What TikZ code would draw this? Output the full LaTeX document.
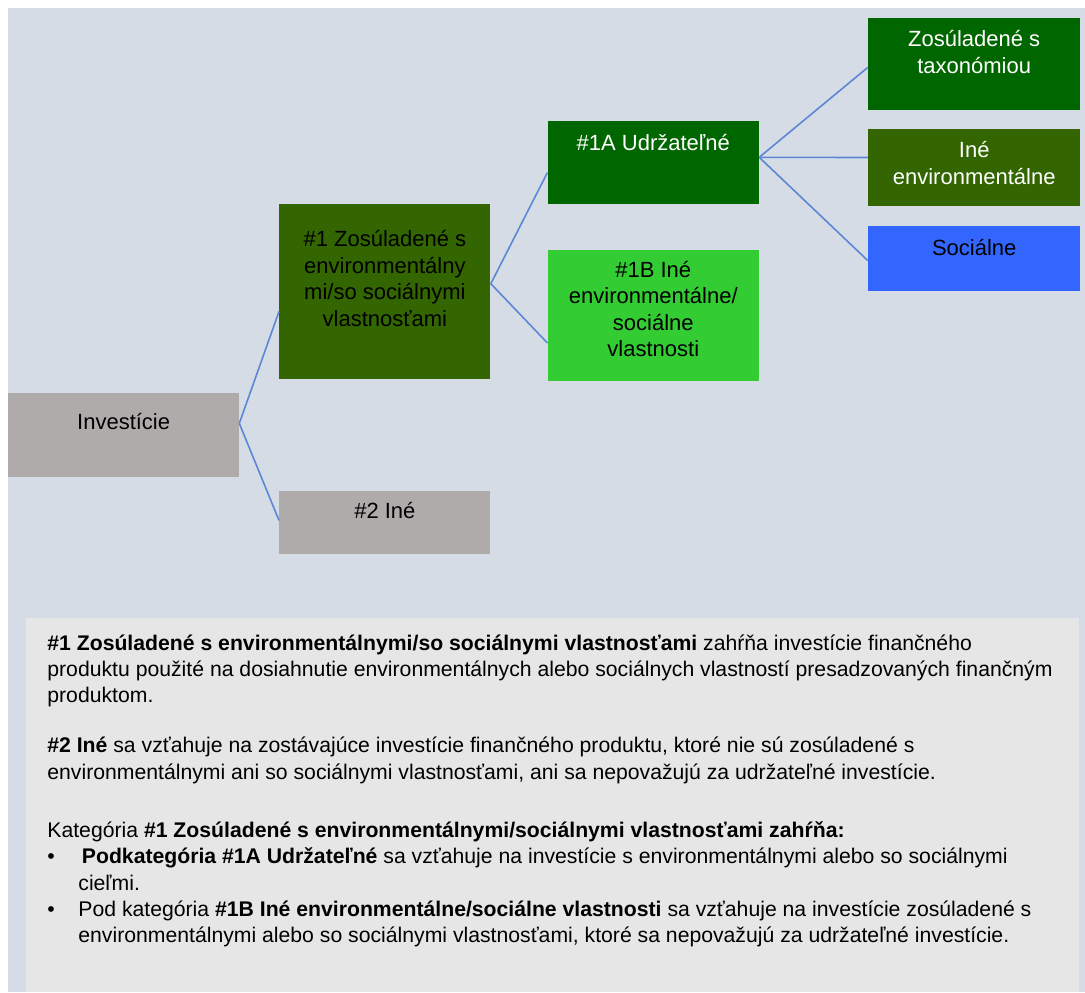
\documentclass[tikz,border=0pt]{standalone}
\usepackage{fontspec}
\setmainfont{Liberation Sans}
\usepackage{tikz}
\definecolor{bgblue}{HTML}{D6DCE5}
\definecolor{notegray}{HTML}{E7E6E6}
\definecolor{invgray}{HTML}{AFABAB}
\definecolor{olive}{HTML}{336600}
\definecolor{darkgreen}{HTML}{006600}
\definecolor{lightgreen}{HTML}{33CC33}
\definecolor{socblue}{HTML}{3366FF}
\definecolor{linkblue}{HTML}{5B87D6}
\newcommand{\nbul}{\makebox[15.5pt][l]{\textbullet}}

\begin{document}
\begin{tikzpicture}[x=0.5pt,y=-0.5pt]
\tikzstyle{cat}=[
    rectangle,
    anchor=north west,
    inner sep=0pt,
    align=center,
    font=\fontsize{11}{13.25}\selectfont]
\tikzstyle{catl}=[cat, minimum width=105.5pt]
\tikzstyle{catr}=[cat, minimum width=106pt]
\tikzstyle{link}=[draw=linkblue, line width=0.8pt]
\tikzstyle{notes}=[
    anchor=north west,
    inner sep=0pt,
    align=left,
    font=\fontsize{10.6}{13.2}\selectfont]

\useasboundingbox (0,0) rectangle (1085,992);
\fill[bgblue] (8,8) rectangle (1085,992);
\fill[notegray] (26,618) rectangle (1079,992);

% categories
\node[cat, fill=invgray, minimum width=115.25pt, minimum height=41.75pt, text depth=13.6pt] (inv) at (8,393) {Investície};
\node[catl, fill=olive, minimum height=87.5pt, text depth=13.5pt] (one) at (279,204) {\#1 Zosúladené s\\environmentálny\\mi/so sociálnymi\\vlastnosťami};
\node[catl, fill=invgray, minimum height=31.6pt, text depth=12.2pt] (two) at (279,490.6) {\#2 Iné};
\node[catl, fill=darkgreen, text=white, minimum height=41.5pt, text depth=20.4pt] (oneA) at (547.4,120.5) {\#1A Udržateľné};
\node[catl, fill=lightgreen, minimum height=65.65pt, text depth=6.6pt] (oneB) at (547.4,249.5) {\#1B Iné\\environmentálne/\\sociálne\\vlastnosti};
\node[catr, fill=darkgreen, text=white, minimum height=46.4pt, text depth=12.2pt] (tax) at (867.8,17.2) {Zosúladené s\\taxonómiou};
\node[catr, fill=olive, text=white, minimum height=38.5pt, text depth=4.8pt] (oenv) at (867.8,128.6) {Iné\\environmentálne};
\node[catr, fill=socblue, minimum height=32.5pt, text depth=11.4pt] (soc) at (867.8,225.8) {Sociálne};

% links
\draw[link] ([yshift=5.9pt]inv.east) -- ([yshift=-9.8pt]one.west);
\draw[link] ([yshift=5.9pt]inv.east) -- ([yshift=1.1pt]two.west);
\draw[link] ([yshift=4.1pt]one.east) -- ([yshift=-5.1pt]oneA.west);
\draw[link] ([yshift=4.1pt]one.east) -- ([yshift=-13.7pt]oneB.west);
\draw[link] ([yshift=2.55pt]oneA.east) -- ([yshift=-1.7pt]tax.west);
\draw[link] ([yshift=2.55pt]oneA.east) -- ([yshift=5pt]oenv.west);
\draw[link] ([yshift=2.55pt]oneA.east) -- ([yshift=-0.95pt]soc.west);

% explanation
\node[notes] (expl) at (47,634) {%
\textbf{\#1 Zosúladené s environmentálnymi/so sociálnymi vlastnosťami} zahŕňa investície finančného\\
produktu použité na dosiahnutie environmentálnych alebo sociálnych vlastností presadzovaných finančným\\
produktom.\\[11.8pt]
\textbf{\#2 Iné} sa vzťahuje na zostávajúce investície finančného produktu, ktoré nie sú zosúladené s\\
environmentálnymi ani so sociálnymi vlastnosťami, ani sa nepovažujú za udržateľné investície.\\[15.8pt]
Kategória \textbf{\#1 Zosúladené s environmentálnymi/sociálnymi vlastnosťami zahŕňa:}\\
\nbul\textbf{\,Podkategória \#1A Udržateľné} sa vzťahuje na investície s environmentálnymi alebo so sociálnymi\\
\hspace*{15.5pt}cieľmi.\\
\nbul Pod kategória \textbf{\#1B Iné environmentálne/sociálne vlastnosti} sa vzťahuje na investície zosúladené s\\
\hspace*{15.5pt}environmentálnymi alebo so sociálnymi vlastnosťami, ktoré sa nepovažujú za udržateľné investície.};
\end{tikzpicture}
\end{document}
